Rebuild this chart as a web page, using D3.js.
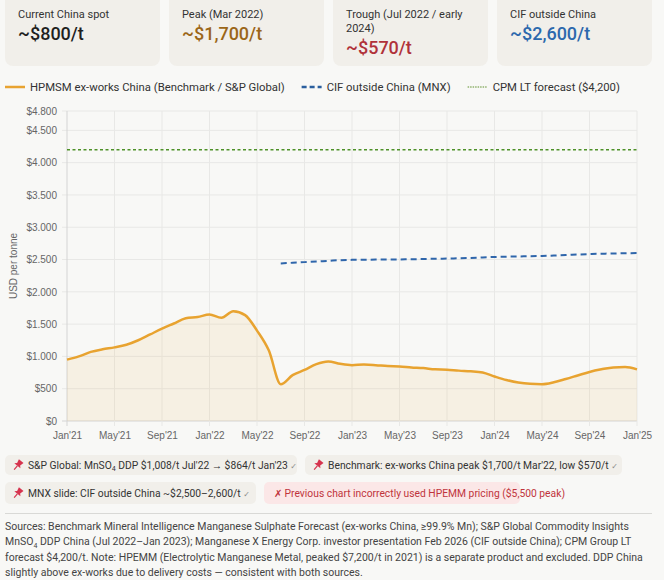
<!DOCTYPE html>
<html>
<head>
<meta charset="utf-8">
<script src="https://cdn.jsdelivr.net/npm/d3@7"></script>
<style>
  body { margin: 0; background: #f8f8f6; }
  svg { display: block; font-family: Roboto, "Liberation Sans", sans-serif; }
</style>
</head>
<body>
<svg id="chart" width="664" height="580"></svg>
<script>
// monthly categories Jan'21 .. Jan'25
var months = d3.timeMonths(new Date(2021, 0, 1), new Date(2025, 0, 2))

// HPMSM ex-works China, USD/t
var hpmsm = [950, 1000, 1070, 1110, 1140, 1180, 1250, 1340, 1430, 1510, 1590, 1610,
             1650, 1600, 1700, 1640, 1400, 1090, 570, 710, 790, 880, 920, 885,
             865, 875, 865, 850, 845, 830, 820, 800, 795, 780, 770, 750,
             690, 635, 595, 575, 570, 600, 650, 705, 760, 800, 830, 835,
             800]

// CIF outside China (MNX), starts Jul'22
var cifStart = 18
var cif = [2440, 2450, 2460, 2470, 2480, 2490, 2495, 2497, 2499, 2500, 2502, 2505,
           2508, 2512, 2515, 2520, 2525, 2532, 2540, 2544, 2548, 2552, 2555, 2562,
           2570, 2578, 2585, 2590, 2594, 2598, 2600]

var cpmForecast = 4200
var yTicks = [0, 500, 1000, 1500, 2000, 2500, 3000, 3500, 4000, 4500, 4800]

var cards = [
    { label: ["Current China spot"], value: "~$800/t", color: "#1f1f1f" },
    { label: ["Peak (Mar 2022)"], value: "~$1,700/t", color: "#9b6618" },
    { label: ["Trough (Jul 2022 / early", "2024)"], value: "~$570/t", color: "#b0323a" },
    { label: ["CIF outside China"], value: "~$2,600/t", color: "#2c68ad" }
]

var legendItems = [
    { text: "HPMSM ex-works China (Benchmark / S&P Global)", color: "#e8a330", dash: null, w: 2.5 },
    { text: "CIF outside China (MNX)", color: "#2b5f9e", dash: "5,3", w: 2.5 },
    { text: "CPM LT forecast ($4,200)", color: "#5d8f2a", dash: "1.5,1", w: 1 }
]

var sources = [
    "Sources: Benchmark Mineral Intelligence Manganese Sulphate Forecast (ex-works China, \u226599.9% Mn); S&P Global Commodity Insights",
    "MnSO\u2084 DDP China (Jul 2022\u2013Jan 2023); Manganese X Energy Corp. investor presentation Feb 2026 (CIF outside China); CPM Group LT",
    "forecast $4,200/t. Note: HPEMM (Electrolytic Manganese Metal, peaked $7,200/t in 2021) is a separate product and excluded. DDP China",
    "slightly above ex-works due to delivery costs \u2014 consistent with both sources."
]

var dimensions = {
    width: 664,
    height: 580,
    plot: { left: 67, right: 637, top: 111, bottom: 421 }
}

var svg = d3.select("#chart")

// ---- stat cards
cards.forEach((c, i) => {
    var x = 5 + i * 164
    var g = svg.append("g").attr("transform", `translate(${x},0)`)
    g.append("rect")
     .attr("x", 0).attr("y", -10)
     .attr("width", 155).attr("height", 76)
     .attr("rx", 8)
     .attr("fill", "#f1efea")
    c.label.forEach((l, j) => {
        g.append("text")
         .attr("x", 13).attr("y", 18 + j * 14)
         .attr("fill", "#333")
         .style("font-size", "11px")
         .text(l)
    })
    g.append("text")
     .attr("x", 13).attr("y", 40 + (c.label.length - 1) * 13.5)
     .attr("fill", c.color)
     .style("font-size", "18px")
     .style("font-weight", 500)
     .text(c.value)
})

// ---- legend
var lx = 5
legendItems.forEach(item => {
    svg.append("line")
       .attr("x1", lx).attr("x2", lx + 20)
       .attr("y1", 87).attr("y2", 87)
       .attr("stroke", item.color)
       .attr("stroke-width", item.w)
       .attr("stroke-dasharray", item.dash)
    var t = svg.append("text")
               .attr("x", lx + 25).attr("y", 91)
               .attr("fill", "#333")
               .style("font-size", "11.3px")
               .text(item.text)
    lx += 25 + t.node().getComputedTextLength() + 17
})

// ---- scales
var xScale = d3.scalePoint()
               .domain(d3.range(months.length))
               .range([dimensions.plot.left, dimensions.plot.right])

var yScale = d3.scaleLinear()
               .domain([0, 4800])
               .range([dimensions.plot.bottom, dimensions.plot.top])

var locale = d3.formatLocale({ decimal: ",", thousands: ".", grouping: [3], currency: ["$", ""] })
var fmt = locale.format("$,")
var monthFmt = d3.timeFormat("%b'%y")

var xTickIdx = d3.range(0, months.length, 4)

// grid
var grid = svg.append("g")
grid.selectAll(".hg")
    .data(yTicks)
    .enter()
    .append("line")
    .attr("x1", dimensions.plot.left - 5)
    .attr("x2", dimensions.plot.right)
    .attr("y1", d => yScale(d))
    .attr("y2", d => yScale(d))
    .attr("stroke", d => d === 0 ? "#d4d4d4" : "#e8e8e6")
grid.selectAll(".vg")
    .data(xTickIdx)
    .enter()
    .append("line")
    .attr("x1", d => xScale(d))
    .attr("x2", d => xScale(d))
    .attr("y1", dimensions.plot.top)
    .attr("y2", dimensions.plot.bottom + 5)
    .attr("stroke", d => d === 0 ? "#d4d4d4" : "#e8e8e6")

// y axis labels
var yAxis = svg.append("g")
               .attr("transform", `translate(${dimensions.plot.left},0)`)
               .call(d3.axisLeft(yScale).tickValues(yTicks).tickFormat(fmt).tickSize(0).tickPadding(10))
yAxis.select(".domain").remove()
yAxis.selectAll("text")
     .attr("fill", "#666")
     .style("font-family", "'Liberation Sans', Arial, sans-serif")
     .style("font-size", "10px")

// x axis labels
var xAxis = svg.append("g")
               .attr("transform", `translate(0,${dimensions.plot.bottom})`)
               .call(d3.axisBottom(xScale).tickValues(xTickIdx).tickFormat(i => monthFmt(months[i])).tickSize(0).tickPadding(11))
xAxis.select(".domain").remove()
xAxis.selectAll("text")
     .attr("fill", "#666")
     .style("font-family", "'Liberation Sans', Arial, sans-serif")
     .style("font-size", "10px")

svg.append("text")
   .attr("transform", "rotate(-90)")
   .attr("x", -266)
   .attr("y", 17)
   .attr("text-anchor", "middle")
   .attr("fill", "#666")
   .style("font-family", "'Liberation Sans', Arial, sans-serif")
   .style("font-size", "10px")
   .text("USD per tonne")

// ---- series
var area = d3.area()
             .x((d, i) => xScale(i))
             .y0(yScale(0))
             .y1(d => yScale(d))
             .curve(d3.curveMonotoneX)

svg.append("path")
   .datum(hpmsm)
   .attr("d", area)
   .attr("fill", "#e8a330")
   .attr("fill-opacity", 0.09)

var line = d3.line()
             .x((d, i) => xScale(i))
             .y(d => yScale(d))
             .curve(d3.curveMonotoneX)

svg.append("path")
   .datum(hpmsm)
   .attr("d", line)
   .attr("fill", "none")
   .attr("stroke", "#e8a330")
   .attr("stroke-width", 2.5)

svg.append("path")
   .datum(cif)
   .attr("d", d3.line().x((d, i) => xScale(i + cifStart)).y(d => yScale(d)).curve(d3.curveMonotoneX))
   .attr("fill", "none")
   .attr("stroke", "#2f66ab")
   .attr("stroke-width", 2)
   .attr("stroke-dasharray", "6,4")

svg.append("line")
   .attr("x1", xScale(0)).attr("x2", xScale(months.length - 1))
   .attr("y1", yScale(cpmForecast)).attr("y2", yScale(cpmForecast))
   .attr("stroke", "#4e9128")
   .attr("stroke-width", 1.5)
   .attr("stroke-dasharray", "3,2.5")

// ---- note chips
function pin(g, x, y) {
    var p = g.append("g").attr("transform", `translate(${x},${y}) rotate(40)`)
    p.append("path")
     .attr("d", "M-3,-5 L3,-5 L2,-1 L4,1 L-4,1 L-2,-1 Z")
     .attr("fill", "#d6344f")
    p.append("line")
     .attr("x1", 0).attr("x2", 0).attr("y1", 1).attr("y2", 6)
     .attr("stroke", "#d6344f").attr("stroke-width", 1.2)
}

var notes = [
    { x: 5, y: 455, w: 292, h: 20, parts: [["S&P Global: MnSO", 0], ["4", 1], [" DDP $1,008/t Jul'22 \u2192 $864/t Jan'23 ", 0], ["\u2713", 2]], pin: true },
    { x: 305, y: 455, w: 317, h: 20, parts: [["Benchmark: ex-works China peak $1,700/t Mar'22, low $570/t ", 0], ["\u2713", 2]], pin: true },
    { x: 5, y: 482, w: 251, h: 22, parts: [["MNX slide: CIF outside China ~$2,500\u20132,600/t ", 0], ["\u2713", 2]], pin: true },
    { x: 264, y: 482, w: 256, h: 22, parts: [["\u2717 Previous chart incorrectly used HPEMM pricing ($5,500 peak)", 3]], pin: false, warn: true }
]

notes.forEach(n => {
    var g = svg.append("g")
    g.append("rect")
     .attr("x", n.x).attr("y", n.y)
     .attr("width", n.w).attr("height", n.h)
     .attr("rx", 5)
     .attr("fill", n.warn ? "#fbe7e7" : "#f1efea")
    if (n.pin) pin(g, n.x + 13, n.y + n.h / 2)
    var t = g.append("text")
             .attr("x", n.x + (n.pin ? 23 : 10))
             .attr("y", n.y + n.h / 2 + 3.8)
             .style("font-size", "10.3px")
             .attr("fill", n.warn ? "#c0343c" : "#333")
    n.parts.forEach(p => {
        var s = t.append("tspan").text(p[0])
        if (p[1] === 1) s.attr("dy", 2.5).style("font-size", "7px")
        if (p[1] === 0 && t.selectAll("tspan").size() > 1) s.attr("dy", -2.5)
        if (p[1] === 2) s.attr("fill", "#888").style("font-family", "'DejaVu Sans', sans-serif").style("font-size", "8px")
    })
})

// ---- separator and sources
svg.append("line")
   .attr("x1", 5).attr("x2", 652)
   .attr("y1", 513.5).attr("y2", 513.5)
   .attr("stroke", "#d9d9d6")

sources.forEach((s, i) => {
    var t = svg.append("text")
               .attr("x", 5)
               .attr("y", 530 + i * 15.3)
               .attr("fill", "#444")
               .style("font-size", "10.5px")
    if (i === 1) {
        t.append("tspan").text("MnSO")
        t.append("tspan").attr("dy", 2.5).style("font-size", "7px").text("4")
        t.append("tspan").attr("dy", -2.5).text(s.slice(5))
    } else {
        t.text(s)
    }
})
</script>
</body>
</html>
